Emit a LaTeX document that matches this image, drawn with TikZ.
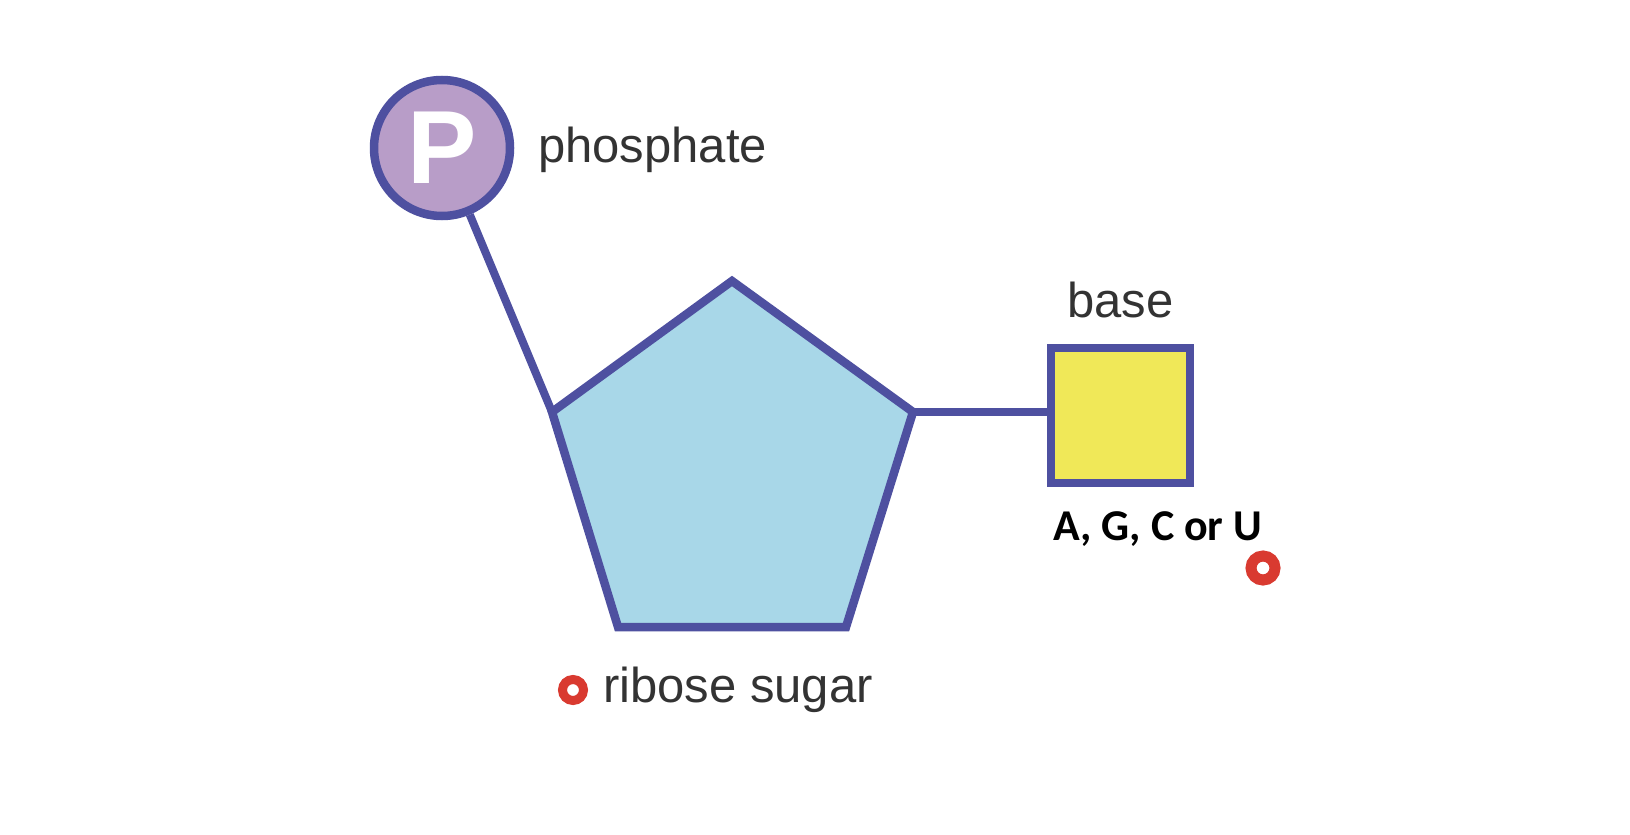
\documentclass[tikz,border=0pt]{standalone}
\usepackage{fontspec}
\setmainfont{Liberation Sans}
\newfontfamily\carl{Carlito}
\usetikzlibrary{calc}
\definecolor{edgeblue}{HTML}{4E50A0}
\definecolor{phosfill}{HTML}{B89DC8}
\definecolor{sugarfill}{HTML}{A8D7E8}
\definecolor{basefill}{HTML}{F0E858}
\definecolor{labelgray}{HTML}{333333}
\definecolor{markred}{HTML}{D93A30}
\tikzset{
  shapeline/.style={draw=edgeblue, line width=8.5pt, line join=miter},
  bond/.style={draw=edgeblue, line width=8pt},
  lbl/.style={text=labelgray, inner sep=0pt, anchor=base west, font=\fontsize{49}{58}\selectfont},
  ring/.style={circle, draw=markred, inner sep=0pt},
}
\begin{document}
\begin{tikzpicture}[x=1pt,y=-1pt]
\useasboundingbox[fill=white] (0,0) rectangle (1630,835);
% phosphate
\node[circle, shapeline, fill=phosfill, minimum size=136pt, inner sep=0pt,
      text=white, font=\fontsize{104}{110}\selectfont\bfseries] (phos) at (442,148) {P};
% sugar pentagon corners
\coordinate (ptop) at (732,281);
\coordinate (pright) at (913,412);
\coordinate (pbr) at (846,627);
\coordinate (pbl) at (618,627);
\coordinate (pleft) at (552,412);
\draw[shapeline, fill=sugarfill] (ptop) -- (pright) -- (pbr) -- (pbl) -- (pleft) -- cycle;
% base square
\node[shapeline, fill=basefill, minimum width=139pt, minimum height=135pt, inner sep=0pt] (sq) at (1120.5,415.5) {};
% bonds
\draw[bond] (phos) -- (pleft);
\draw[bond] (pright) -- (pright -| sq.west);
% labels
\node[lbl] (lphos) at (538,162) {phosphate};
\node[lbl] (lbase) at (1067,317) {base};
\node[lbl] (lsugar) at (603,702) {ribose sugar};
\node[inner sep=0pt, anchor=base west, font=\carl\bfseries\fontsize{44}{50}\selectfont] (lagcu) at (1053,540) {A, G, C or U};
% red rings
\node[ring, line width=9pt, minimum size=21pt] (r1) at (573,690) {};
\node[ring, line width=11pt, minimum size=24pt] (r2) at (1263,568) {};
\end{tikzpicture}
\end{document}
